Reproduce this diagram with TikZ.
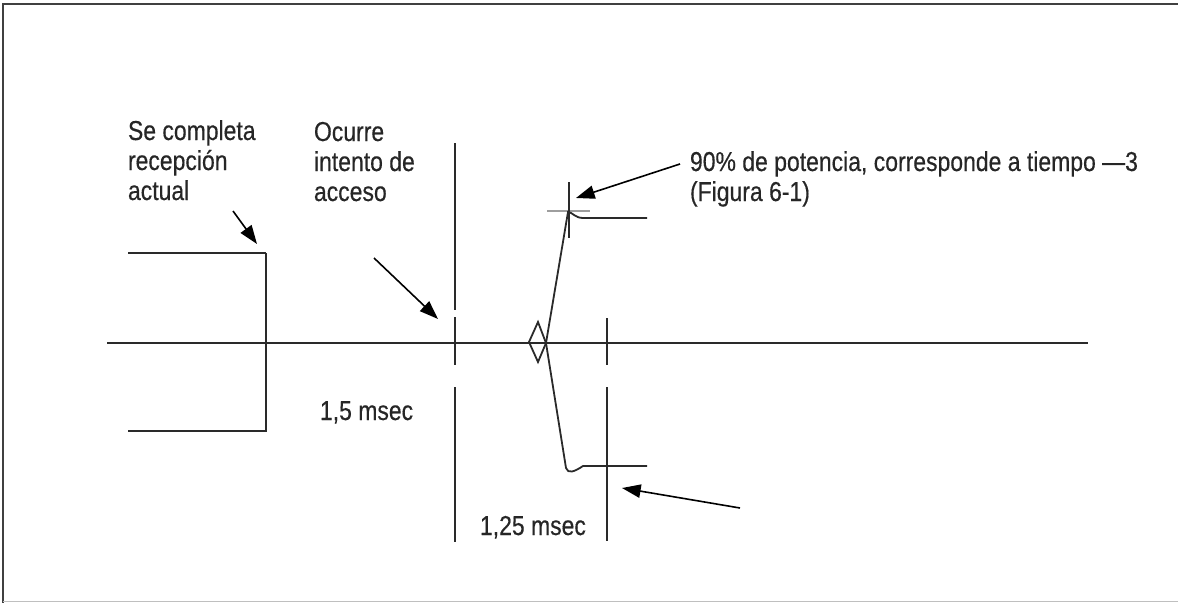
\documentclass[tikz,border=0pt]{standalone}
\usepackage{fontspec}
\setmainfont{Liberation Sans}[FakeStretch=0.84,FakeBold=0.4]
\usetikzlibrary{arrows.meta}
\definecolor{ink}{HTML}{2A2A2A}
\definecolor{txt}{HTML}{262626}
\tikzset{
  every node/.style={inner sep=0pt, outer sep=0pt},
  lbl/.style={anchor=base west, text=txt, font=\fontsize{20.5}{22.5}\selectfont},
  wire/.style={draw=ink, line width=1.55pt},
  pointer/.style={draw=black, line width=1.2pt, -{Triangle[length=14pt,width=10pt]}},
}
\begin{document}
\begin{tikzpicture}[x=0.75pt,y=-0.75pt]
\useasboundingbox (0,0) rectangle (1178,603);
% frame
\draw[draw=black!75, line width=2.2pt] (3,603) -- (3,4) -- (1178,4);
\draw[draw=black!25, line width=1.3pt] (3,601.5) -- (1178,601.5);
% coordinates
\coordinate (axL) at (107,343);
\coordinate (axR) at (1088,343);
% axis
\draw[wire] (axL) -- (axR);
% left pulse
\draw[wire, line width=1.9pt] (128,253) -- (266,253);
\draw[wire] (266,253) -- (266,431) -- (128,431);
% vertical at 455
\draw[wire] (455,143) -- (455,310);
\draw[wire] (455,317) -- (455,365);
\draw[wire] (455,387) -- (455,542);
% vertical at 607
\draw[wire] (607,318) -- (607,365);
\draw[wire] (607,387) -- (607,541);
% top cross
\draw[draw=black!38, line width=2pt] (547,211) -- (590,211);
\draw[wire] (569,182) -- (569,238);
% envelope curve
\draw[wire, line width=1.35pt] (647,218) -- (583,218) .. controls (575,218) and (572,212) .. (568,212)
  -- (546,343) -- (566,468) .. controls (568,474) and (574,472) .. (583,466) -- (647,466);
% diamond
\draw[wire, line width=1.35pt] (546,343) -- (538,322) -- (529,342) -- (538,362) -- cycle;
% texts
\node[lbl] (t1) at (128,140) {Se completa};
\node[lbl] (t2) at (128,170) {recepción};
\node[lbl] (t3) at (128,200) {actual};
\node[lbl] (o1) at (314,141) {Ocurre};
\node[lbl] (o2) at (314,171) {intento de};
\node[lbl] (o3) at (314,201) {acceso};
\node[lbl] (m1) at (320,420) {1,5 msec};
\node[lbl] (m2) at (480,535) {1,25 msec};
\node[lbl] (p1) at (690,171) {90\% de potencia, corresponde a tiempo —3};
\node[lbl] (p2) at (690,201) {(Figura 6-1)};
% arrows
\coordinate (a1s) at (233,211); \coordinate (a1e) at (257,244);
\coordinate (a2s) at (374,258); \coordinate (a2e) at (438,319);
\coordinate (a3s) at (680,164); \coordinate (a3e) at (576,198);
\coordinate (a4s) at (740,508); \coordinate (a4e) at (622,488);
\draw[pointer] (a1s) -- (a1e);
\draw[pointer] (a2s) -- (a2e);
\draw[pointer] (a3s) -- (a3e);
\draw[pointer] (a4s) -- (a4e);
\end{tikzpicture}
\end{document}
